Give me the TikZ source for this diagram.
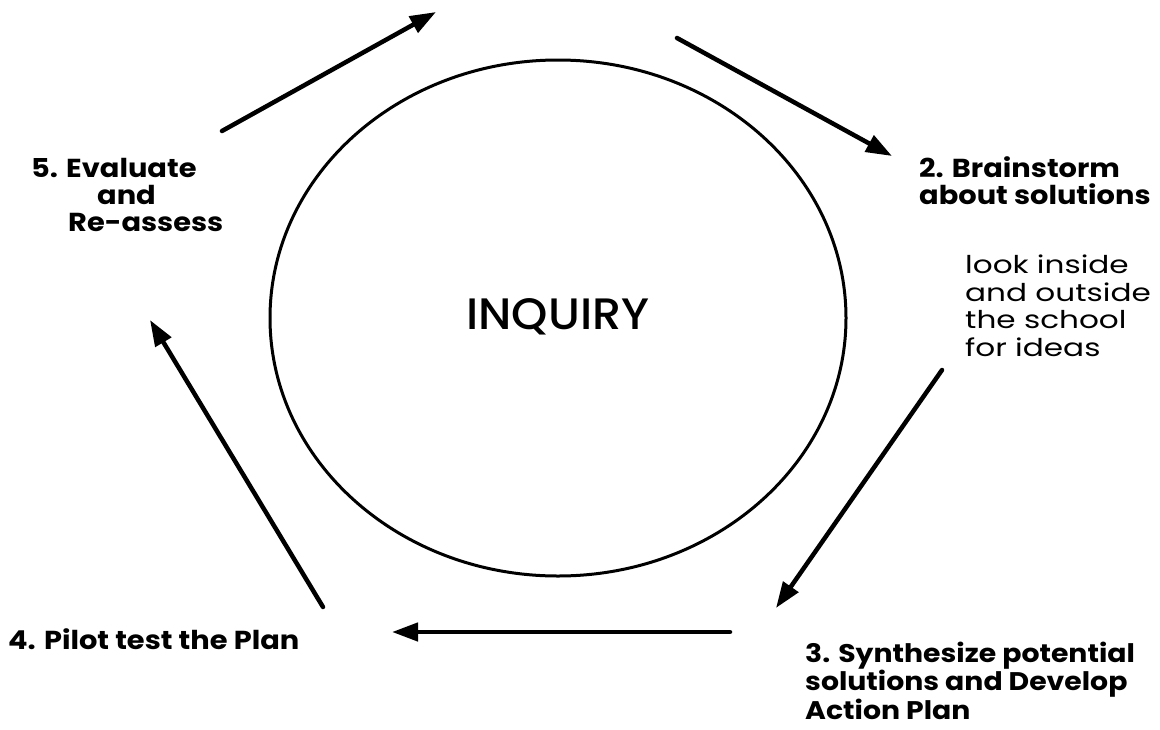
\documentclass[tikz,border=0pt]{standalone}
\usepackage{fontspec}
\setmainfont{Poppins}
\newfontfamily\pmed{Poppins}[UprightFont=* Medium, FakeStretch=1.05]
\newfontfamily\pbold{Poppins}[UprightFont=* Bold, FakeStretch=1.11]
\newfontfamily\preg{Poppins}[FakeStretch=1.27]
\usetikzlibrary{arrows.meta}
\begin{document}
\begin{tikzpicture}[x=1pt,y=-1pt,
  flow/.style={line width=4.5pt,line cap=round,-{Triangle[length=26pt,width=18pt]}},
  stage/.style={font=\fontsize{26}{27}\pbold,inner sep=0pt,align=left,anchor=base west},
  note/.style={font=\fontsize{24.5}{27.5}\preg,inner sep=0pt,align=left,anchor=base west}]
\useasboundingbox (0,0) rectangle (1160,729);

% central cycle
\draw[line width=3pt] (558,318) ellipse [x radius=288, y radius=258];
\node[font=\fontsize{44}{48}\pmed,inner sep=0pt] (inq) at (558,317) {INQUIRY};

% stage labels (anchored at the baseline of their last line)
\node[stage] (s2) at (919,204) {2. Brainstorm\\about solutions};
\node[note] (n2) at (965,356) {look inside\\and outside\\the school\\for ideas};
\node[stage,font=\fontsize{25.5}{25.5}\pbold] (s3) at (805,719) {3. Synthesize potential\\solutions and Develop\\Action Plan};
\node[stage] (s4) at (8,649) {4. Pilot test the Plan};
\node[stage] (s5) at (31,231) {5. Evaluate\\\hspace*{66pt}and\\\hspace*{37pt}Re-assess};

% arrow end points
\coordinate (a1s) at (222,131);  \coordinate (a1e) at (436,12);
\coordinate (a2s) at (677,38);   \coordinate (a2e) at (892,156);
\coordinate (a3s) at (942,370);  \coordinate (a3e) at (776,608);
\coordinate (a4s) at (730,632);  \coordinate (a4e) at (392,632);
\coordinate (a5s) at (323,607);  \coordinate (a5e) at (150,320);

\draw[flow] (a1s) -- (a1e);
\draw[flow] (a2s) -- (a2e);
\draw[flow] (a3s) -- (a3e);
\draw[flow] (a4s) -- (a4e);
\draw[flow] (a5s) -- (a5e);
\end{tikzpicture}
\end{document}
